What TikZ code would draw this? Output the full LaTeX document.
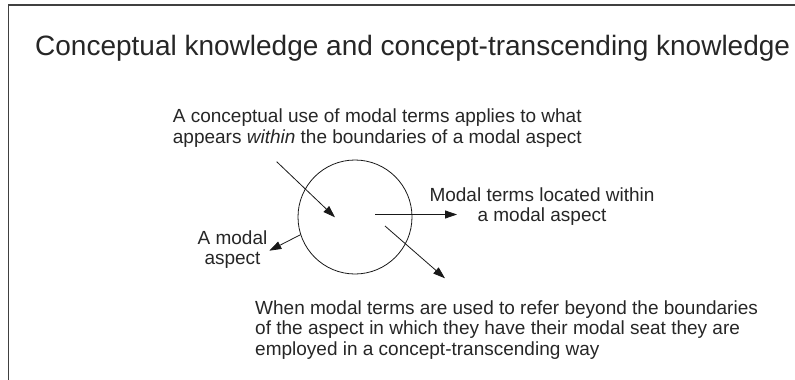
\documentclass[tikz,border=0pt]{standalone}
\usepackage{fontspec}
\setmainfont{Liberation Sans}
\usetikzlibrary{arrows.meta}
\newcommand\bodyfnt{\fontsize{19}{20.5}\selectfont}
\newcommand\titlefnt{\fontsize{28}{33}\selectfont}
\tikzset{
  lbl/.style={inner sep=0pt, text=black!85, font=\bodyfnt},
  arr/.style={line width=0.8pt, draw=black!90, -{Triangle[length=12pt,width=8pt]}},
  frameline/.style={line width=1.1pt, draw=black!75}
}
\begin{document}
\begin{tikzpicture}[x=1pt,y=-1pt]
\useasboundingbox (0,0) rectangle (795,380);
% frame
\coordinate (fa) at (795,5);
\coordinate (fb) at (8.5,5);
\coordinate (fc) at (8.5,380);
\draw[frameline] (fa) -- (fb) -- (fc);
% title
\node (title) [inner sep=0pt, text=black!85, font=\titlefnt, anchor=base west] at (35,55)
  {Conceptual knowledge and concept-transcending knowledge};
% top text
\node (t1) [lbl, anchor=base west] at (172.7,122.5)
  {\begin{tabular}[t]{@{}l@{}}A conceptual use of modal terms applies to what\\
   appears \textit{within} the boundaries of a modal aspect\end{tabular}};
% circle
\node (c) [circle, draw=black!90, line width=0.8pt, minimum size=114pt, inner sep=0pt] at (355,217) {};
% right text
\node (t2) [lbl, anchor=base] at (542,201)
  {\begin{tabular}[t]{@{}c@{}}Modal terms located within\\ a modal aspect\end{tabular}};
% left text
\node (t3) [lbl, anchor=base] at (232.5,244)
  {\begin{tabular}[t]{@{}c@{}}A modal\\ aspect\end{tabular}};
% bottom text
\node (t4) [lbl, anchor=base west] at (255,314)
  {\begin{tabular}[t]{@{}l@{}}When modal terms are used to refer beyond the boundaries\\
   of the aspect in which they have their modal seat they are\\
   employed in a concept-transcending way\end{tabular}};
% arrow points
\coordinate (a1s) at (276.7,161.7);
\coordinate (a1e) at (335,217.3);
\coordinate (a2s) at (375,214.5);
\coordinate (a2e) at (457,214.5);
\coordinate (a3s) at (385,226);
\coordinate (a3e) at (445,278.3);
\coordinate (a4e) at (269.3,250.7);
\draw[arr] (a1s) -- (a1e);
\draw[arr] (a2s) -- (a2e);
\draw[arr] (a3s) -- (a3e);
\draw[arr] (c.198) -- (a4e);
\end{tikzpicture}
\end{document}
